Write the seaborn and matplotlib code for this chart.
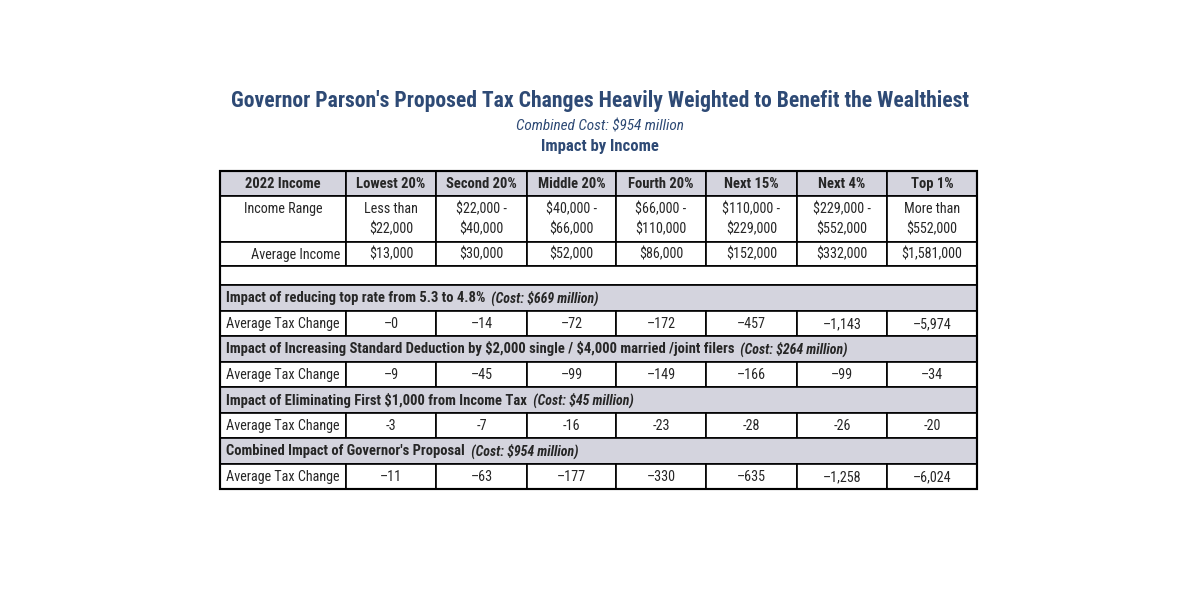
import matplotlib
matplotlib.use("Agg")
import matplotlib.pyplot as plt
from matplotlib import font_manager
from matplotlib.patches import Rectangle
import seaborn as sns

# --- Data ---
TITLE = "Governor Parson's Proposed Tax Changes Heavily Weighted to Benefit the Wealthiest"
SUBTITLE = "Combined Cost: $954 million"
SUBTITLE2 = "Impact by Income"

columns = ["2022 Income", "Lowest 20%", "Second 20%", "Middle 20%", "Fourth 20%",
           "Next 15%", "Next 4%", "Top 1%"]
income_range = ["Less than\n$22,000", "$22,000 -\n$40,000", "$40,000 -\n$66,000",
                "$66,000 -\n$110,000", "$110,000 -\n$229,000", "$229,000 -\n$552,000",
                "More than\n$552,000"]
average_income = ["$13,000", "$30,000", "$52,000", "$86,000", "$152,000",
                  "$332,000", "$1,581,000"]

section_titles = [
    "Impact of reducing top rate from 5.3 to 4.8%",
    "Impact of Increasing Standard Deduction by $2,000 single / $4,000 married /joint filers",
    "Impact of Eliminating First $1,000 from Income Tax",
    "Combined Impact of Governor's Proposal",
]
section_costs = [
    "(Cost: $669 million)",
    "(Cost: $264 million)",
    "(Cost: $45 million)",
    "(Cost: $954 million)",
]
top_rate_change = ["\u20130", "\u201314", "\u201372", "\u2013172", "\u2013457", "\u20131,143", "\u20135,974"]
std_deduction_change = ["\u20139", "\u201345", "\u201399", "\u2013149", "\u2013166", "\u201399", "\u201334"]
first_1000_change = ["-3", "-7", "-16", "-23", "-28", "-26", "-20"]
combined_change = ["\u201311", "\u201363", "\u2013177", "\u2013330", "\u2013635", "\u20131,258", "\u20136,024"]
section_values = [top_rate_change, std_deduction_change, first_1000_change, combined_change]

# --- Style ---
sns.set_theme(style="white")
available = {f.name for f in font_manager.fontManager.ttflist}
FONT = "DejaVu Sans"
for cand in ["Roboto Condensed", "Liberation Sans Narrow", "Open Sans Condensed",
             "Noto Sans Condensed"]:
    if cand in available:
        FONT = cand
        break
plt.rcParams["font.family"] = [FONT, "DejaVu Sans"]
plt.rcParams["text.parse_math"] = False

NAVY = "#2e4a75"
GRAY = "#d4d4de"
LW = 1.2
FS = 10.2      # regular cell text
FS_B = 10.5    # bold header text

col_edges = [220, 346, 436, 527, 616, 706, 797, 887, 977]
TOP = 171
row_heights = {"header": 25, "range": 46, "avg": 24, "blank": 19,
               "section": 26, "row": 25}

fig = plt.figure(figsize=(12, 6.12), dpi=100)
ax = fig.add_axes([0, 0, 1, 1])
ax.set_xlim(0, 1200)
ax.set_ylim(612, 0)
ax.axis("off")

ax.text(600, 101, TITLE, ha="center", va="center", fontsize=15.6, fontweight="bold", color=NAVY)
ax.text(600, 126, SUBTITLE, ha="center", va="center", fontsize=11, style="italic", color=NAVY)
ax.text(600, 147, SUBTITLE2, ha="center", va="center", fontsize=12, fontweight="bold", color=NAVY)

left, right = col_edges[0], col_edges[-1]


def cell(x0, x1, y0, h, fill="white"):
    ax.add_patch(Rectangle((x0, y0), x1 - x0, h, facecolor=fill, edgecolor="black", lw=LW))


def row_cells(y, h, label, values, fill="white", bold=False, label_ha="right", label_y=None):
    weight = "bold" if bold else "normal"
    fs = FS_B if bold else FS
    for i in range(len(col_edges) - 1):
        cell(col_edges[i], col_edges[i + 1], y, h, fill)
    ly = y + h / 2 + 0.5 if label_y is None else label_y
    if label_ha == "center":
        ax.text((col_edges[0] + col_edges[1]) / 2, ly, label, ha="center", va="center",
                fontsize=fs, fontweight=weight)
    else:
        ax.text(col_edges[1] - 6, ly, label, ha="right", va="center",
                fontsize=fs, fontweight=weight)
    for i, v in enumerate(values):
        ax.text((col_edges[i + 1] + col_edges[i + 2]) / 2, y + h / 2 + 0.5, v, ha="center",
                va="center", fontsize=fs, fontweight=weight, linespacing=1.55)


y = TOP
h = row_heights["header"]
row_cells(y, h, columns[0], columns[1:], fill=GRAY, bold=True, label_ha="center")
y += h
h = row_heights["range"]
row_cells(y, h, "Income Range", income_range, label_ha="center", label_y=y + 13.5)
y += h
h = row_heights["avg"]
row_cells(y, h, "Average Income", average_income)
y += h
h = row_heights["blank"]
cell(left, right, y, h)
y += h

for title, cost, vals in zip(section_titles, section_costs, section_values):
    h = row_heights["section"]
    cell(left, right, y, h, GRAY)
    t = ax.text(left + 6, y + h / 2, title, ha="left", va="center", fontsize=FS_B,
                fontweight="bold")
    ax.annotate("  " + cost, xy=(1, 0.5), xycoords=t, ha="left", va="center",
                fontsize=FS_B - 0.5, fontweight="bold", style="italic")
    y += h
    h = row_heights["row"]
    row_cells(y, h, "Average Tax Change", vals)
    y += h

# thicker outer border
ax.add_patch(Rectangle((left, TOP), right - left, y - TOP, facecolor="none",
                       edgecolor="black", lw=LW * 1.3))

fig.savefig("out.png", dpi=100)
